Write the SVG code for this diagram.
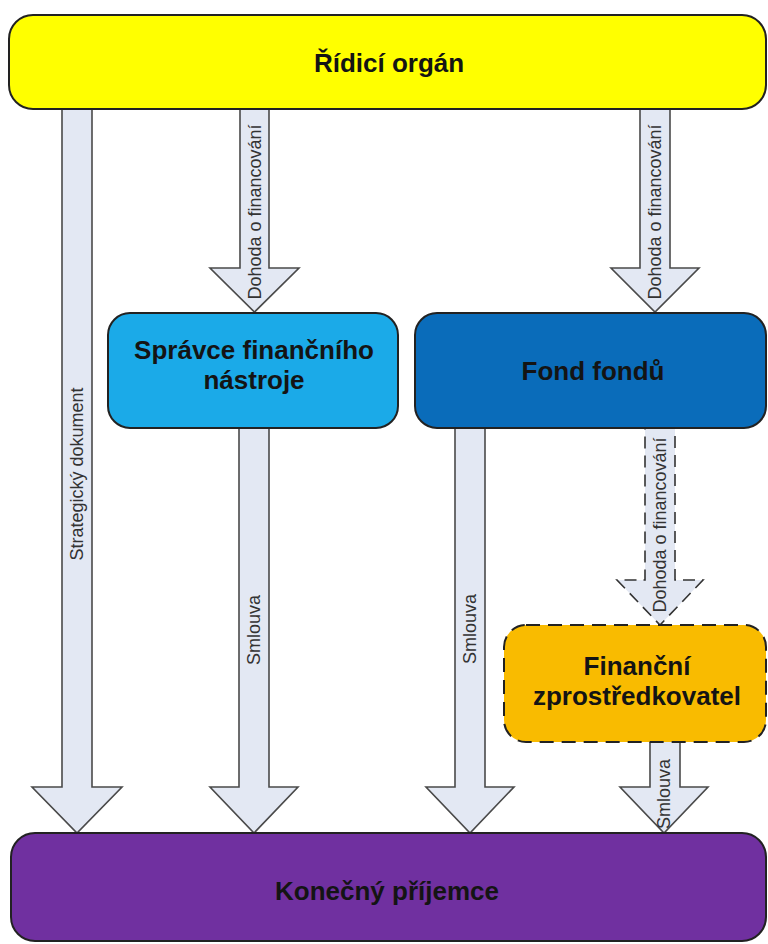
<svg xmlns="http://www.w3.org/2000/svg" width="768" height="944" viewBox="0 0 768 944">
<style>
.node{stroke:#222;stroke-width:2}
.title{font-family:"Liberation Sans",Arial,sans-serif;font-weight:bold;font-size:26px;fill:#141414;text-anchor:middle}
.arrow{fill:#E3E8F3;stroke:#4a4a4a;stroke-width:1.6;stroke-linejoin:miter}
.dashed{stroke:#333;stroke-dasharray:12 7}
.lbl{font-family:"Liberation Sans",Arial,sans-serif;font-size:18px;fill:#333;text-anchor:middle;dominant-baseline:central}
</style>
<rect width="768" height="944" fill="#fff"/>
<g id="connectors">
  <g id="c-strategicky">
    <polygon class="arrow" points="62,105 92,105 92,787 122,787 77,833 32,787 62,787"/>
    <text class="lbl" transform="translate(77,474) rotate(-90)">Strategický dokument</text>
  </g>
  <g id="c-dohoda1">
    <polygon class="arrow" points="240,105 269,105 269,268 299,268 254.5,312 210,268 240,268"/>
    <text class="lbl" transform="translate(254.5,212) rotate(-90)">Dohoda o financování</text>
  </g>
  <g id="c-dohoda2">
    <polygon class="arrow" points="640,105 670,105 670,268 699,268 655,312 611,268 640,268"/>
    <text class="lbl" transform="translate(655,212) rotate(-90)">Dohoda o financování</text>
  </g>
  <g id="c-smlouva1">
    <polygon class="arrow" points="239,426 269,426 269,787 298,787 254,833 210,787 239,787"/>
    <text class="lbl" transform="translate(254,630) rotate(-90)">Smlouva</text>
  </g>
  <g id="c-smlouva2">
    <polygon class="arrow" points="455,426 485,426 485,787 514,787 470,833 426,787 455,787"/>
    <text class="lbl" transform="translate(470,629) rotate(-90)">Smlouva</text>
  </g>
  <g id="c-dohoda3">
    <polygon class="arrow dashed" points="645,428 675,428 675,580 703,580 660,625 617,580 645,580"/>
    <text class="lbl" transform="translate(660,525) rotate(-90)">Dohoda o financování</text>
  </g>
  <g id="c-smlouva3">
    <polygon class="arrow" points="650,740 680,740 680,787 708,787 664,833 620,787 650,787"/>
    <text class="lbl" transform="translate(664,794) rotate(-90)">Smlouva</text>
  </g>
</g>
<g id="ridici-organ">
  <rect class="node" x="9" y="15" width="757" height="94" rx="24" fill="#FFFF00"/>
  <text class="title" x="389" y="72">Řídicí orgán</text>
</g>
<g id="spravce">
  <rect class="node" x="108" y="313" width="290" height="115" rx="22" fill="#1BAAE8"/>
  <text class="title" x="254" y="359">Správce finančního</text>
  <text class="title" x="254" y="389">nástroje</text>
</g>
<g id="fond-fondu">
  <rect class="node" x="415" y="313" width="351" height="115" rx="22" fill="#0A6CBA"/>
  <text class="title" x="593" y="380">Fond fondů</text>
</g>
<g id="financni-zprostredkovatel">
  <rect class="node" x="504" y="625" width="262" height="117" rx="22" fill="#F9BB00" stroke-dasharray="14 8" stroke-width="2.5"/>
  <text class="title" x="637" y="675">Finanční</text>
  <text class="title" x="637" y="705">zprostředkovatel</text>
</g>
<g id="konecny-prijemce">
  <rect class="node" x="11" y="833" width="755" height="108" rx="24" fill="#7030A0"/>
  <text class="title" x="387" y="900">Konečný příjemce</text>
</g>
</svg>
